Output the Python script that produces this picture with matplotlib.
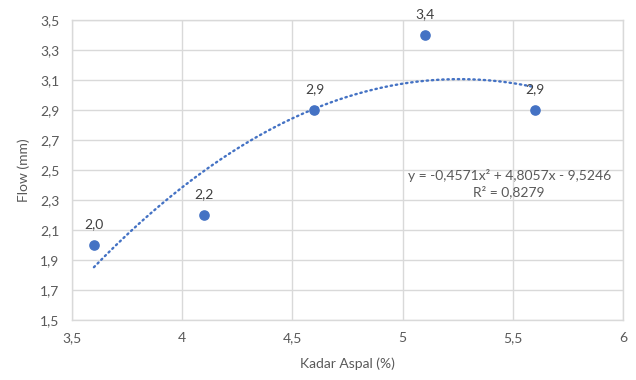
import numpy as np
import matplotlib.pyplot as plt
from matplotlib.ticker import FuncFormatter

plt.rcParams['font.family'] = ['Lato', 'DejaVu Sans']

# data
kadar_aspal = [3.6, 4.1, 4.6, 5.1, 5.6]
flow = [2.0, 2.2, 2.9, 3.4, 2.9]
point_labels = ['2,0', '2,2', '2,9', '3,4', '2,9']

# polynomial trendline (order 2) as shown on the chart
trend_coef = [-0.4571, 4.8057, -9.5246]
trend_text = 'y = -0,4571x² + 4,8057x - 9,5246\nR² = 0,8279'

BLUE = '#4472C4'
GRID = '#d9d9d9'
TEXT = '#595959'


def comma(v, pos):
    s = '%g' % round(v, 2)
    return s.replace('.', ',')


def main():
    fig = plt.figure(figsize=(6.36, 3.8), dpi=100)
    ax = fig.add_axes([0.113, 0.158, 0.867, 0.789])

    # trendline over the data range
    xs = np.linspace(min(kadar_aspal), max(kadar_aspal), 200)
    ax.plot(xs, np.polyval(trend_coef, xs), color=BLUE, lw=1.7,
            linestyle=(0, (0.6, 1.6)), dash_capstyle='round', zorder=2)

    ax.scatter(kadar_aspal, flow, s=44, color=BLUE, zorder=3)

    for x, y, lab in zip(kadar_aspal, flow, point_labels):
        ax.annotate(lab, (x, y), xytext=(0, 11), textcoords='offset points',
                    ha='center', va='bottom', fontsize=10, color='#404040')

    ax.text(5.483, 2.41, trend_text, ha='center', va='center',
            fontsize=10, color=TEXT, linespacing=1.3)

    ax.set_xlim(3.5, 6)
    ax.set_ylim(1.5, 3.5)
    ax.set_xticks(np.arange(3.5, 6.01, 0.5))
    ax.set_yticks(np.arange(1.5, 3.51, 0.2))
    ax.xaxis.set_major_formatter(FuncFormatter(comma))
    ax.yaxis.set_major_formatter(FuncFormatter(comma))

    ax.grid(True, color=GRID, lw=1)
    ax.set_axisbelow(True)
    for side in ['top', 'right', 'left', 'bottom']:
        ax.spines[side].set_color(GRID)
        ax.spines[side].set_linewidth(1)

    ax.tick_params(length=0, labelsize=10, labelcolor=TEXT, pad=9)
    ax.set_xlabel('Kadar Aspal (%)', fontsize=10, color=TEXT, labelpad=9)
    ax.set_ylabel('Flow (mm)', fontsize=10, color=TEXT, labelpad=7)

    fig.savefig('out.png', dpi=100)


main()
